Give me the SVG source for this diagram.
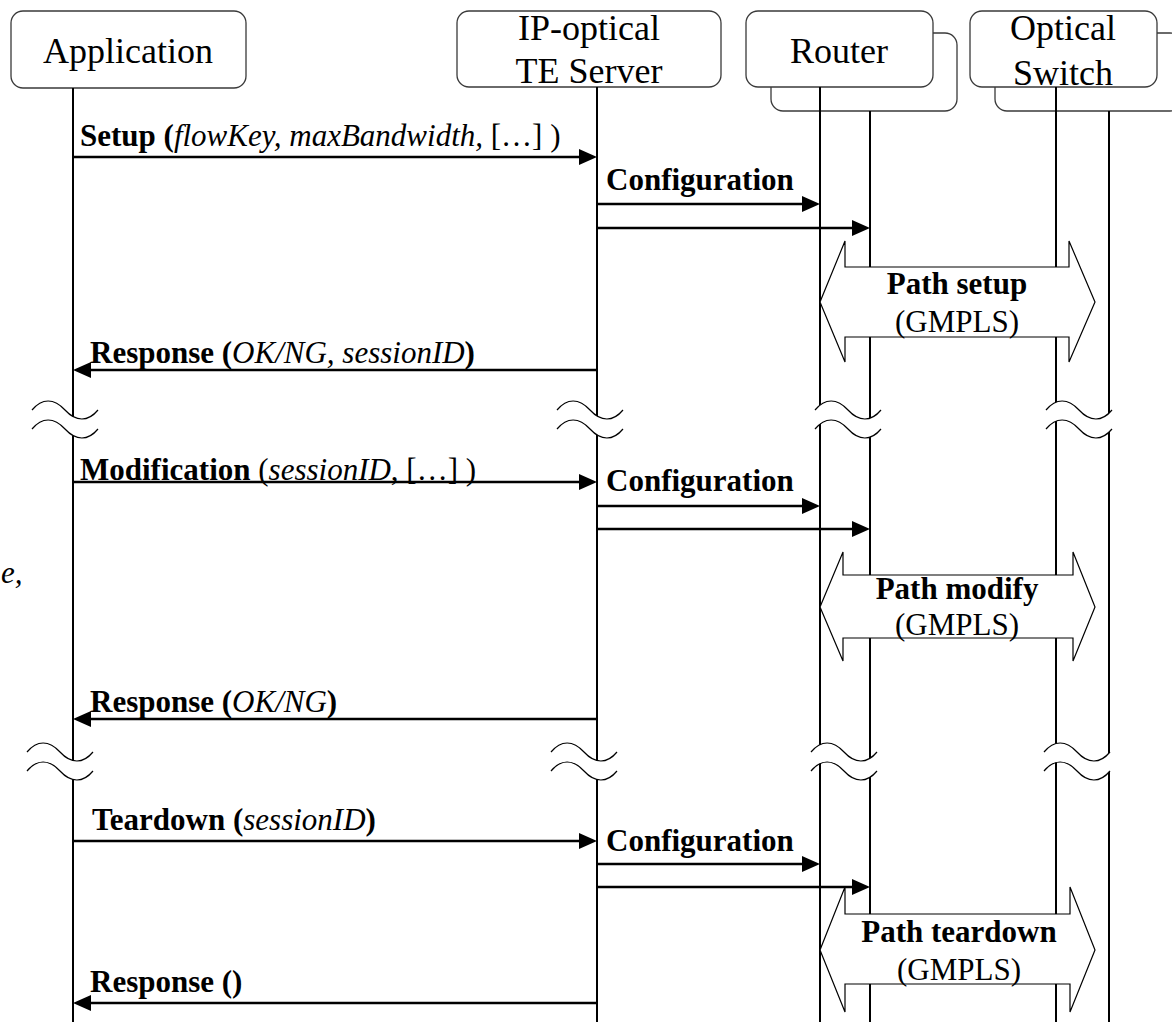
<svg xmlns="http://www.w3.org/2000/svg" xmlns:xlink="http://www.w3.org/1999/xlink" width="1172" height="1022" viewBox="0 0 1172 1022">
  <style>
    .box { fill: #ffffff; stroke: #3a3a3a; stroke-width: 1.3; }
    .head { font-family: "Liberation Serif", "Times New Roman", serif; font-size: 36px; fill: #000; text-anchor: middle; }
    .life { stroke: #000; stroke-width: 2; fill: none; }
    .msg { stroke: #000; stroke-width: 2.6; fill: none; marker-end: url(#ah); }
    .lbl { font-family: "Liberation Serif", "Times New Roman", serif; font-size: 31px; fill: #000; }
    .b { font-weight: bold; }
    .i { font-style: italic; }
    .dbl { fill: #ffffff; stroke: #000; stroke-width: 1.2; stroke-linejoin: miter; }
    .plbl { font-family: "Liberation Serif", "Times New Roman", serif; font-size: 31px; fill: #000; text-anchor: middle; }
    .brk-fill { fill: #ffffff; stroke: none; }
    .brk-line { fill: none; stroke: #000; stroke-width: 1.2; }
  </style>
  <defs>
    <marker id="ah" markerUnits="userSpaceOnUse" viewBox="0 0 18 16" markerWidth="18" markerHeight="16" refX="10" refY="8" orient="auto">
      <path d="M0,0 L18,8 L0,16 Z" fill="#000"/>
    </marker>
    <!-- break symbol: two wavy strokes with the lifeline gap blanked between them -->
    <g id="brk">
      <path class="brk-fill" d="M0,0 c10,-12 22,-12 33,0 c11,12 23,12 33,0 L66,19 c-10,12 -22,12 -33,0 c-11,-12 -23,-12 -33,0 Z"/>
      <path class="brk-line" d="M0,0 c10,-12 22,-12 33,0 c11,12 23,12 33,0 M0,19 c10,-12 22,-12 33,0 c11,12 23,12 33,0"/>
    </g>
  </defs>

  <rect width="1172" height="1022" fill="#ffffff"/>

  <!-- participants -->
  <g id="application">
    <rect class="box" x="11" y="11" width="235" height="77" rx="12"/>
    <text class="head" x="128" y="63">Application</text>
  </g>
  <g id="te-server">
    <rect class="box" x="457" y="11" width="264" height="76" rx="12"/>
    <text class="head" x="589" y="40">IP-optical</text>
    <text class="head" x="589" y="83">TE Server</text>
  </g>
  <g id="router">
    <rect class="box" x="771" y="33" width="186" height="78" rx="12"/>
    <rect class="box" x="746" y="11" width="187" height="76" rx="12"/>
    <text class="head" x="839" y="63">Router</text>
  </g>
  <g id="optical-switch">
    <rect class="box" x="995" y="33" width="187" height="78" rx="12"/>
    <rect class="box" x="970" y="11" width="187" height="76" rx="12"/>
    <text class="head" x="1063" y="40">Optical</text>
    <text class="head" x="1063" y="85">Switch</text>
  </g>

  <!-- lifelines -->
  <g id="lifelines">
    <line class="life" x1="73" y1="88" x2="73" y2="1022"/>
    <line class="life" x1="597" y1="87" x2="597" y2="1022"/>
    <line class="life" x1="820" y1="87" x2="820" y2="1022"/>
    <line class="life" x1="870" y1="111" x2="870" y2="1022"/>
    <line class="life" x1="1056" y1="87" x2="1056" y2="1022"/>
    <line class="life" x1="1109" y1="111" x2="1109" y2="1022"/>
  </g>

  <!-- GMPLS path signalling between router and optical switch -->
  <g id="path-setup">
    <polygon class="dbl" points="820,302 845,241 845,267 1069,267 1069,241 1095,302 1069,362 1069,337 845,337 845,362"/>
    <text class="plbl b" x="957" y="294">Path setup</text>
    <text class="plbl" x="957" y="332">(GMPLS)</text>
  </g>
  <g id="path-modify">
    <polygon class="dbl" points="820,607 843,552 843,575 1073,575 1073,552 1095,607 1073,661 1073,638 843,638 843,661"/>
    <text class="plbl b" x="957" y="599">Path modify</text>
    <text class="plbl" x="957" y="635">(GMPLS)</text>
  </g>
  <g id="path-teardown">
    <polygon class="dbl" points="820,950 845,887 845,914 1070,914 1070,887 1095,950 1070,1012 1070,984 845,984 845,1012"/>
    <text class="plbl b" x="959" y="942">Path teardown</text>
    <text class="plbl" x="959" y="980">(GMPLS)</text>
  </g>

  <!-- time breaks -->
  <g id="breaks">
    <use xlink:href="#brk" x="32" y="410"/>
    <use xlink:href="#brk" x="557" y="410"/>
    <use xlink:href="#brk" x="815" y="410"/>
    <use xlink:href="#brk" x="1046" y="410"/>
    <use xlink:href="#brk" x="27" y="752"/>
    <use xlink:href="#brk" x="551" y="752"/>
    <use xlink:href="#brk" x="811" y="752"/>
    <use xlink:href="#brk" x="1044" y="752"/>
  </g>

  <!-- messages -->
  <g id="connectors">
    <path class="msg" d="M73,157 H589"/>
    <path class="msg" d="M597,204 H812"/>
    <path class="msg" d="M597,228 H862"/>
    <path class="msg" d="M597,370 H81"/>
    <path class="msg" d="M73,482 H589"/>
    <path class="msg" d="M597,506 H812"/>
    <path class="msg" d="M597,529 H862"/>
    <path class="msg" d="M597,719 H81"/>
    <path class="msg" d="M73,841 H589"/>
    <path class="msg" d="M597,864 H812"/>
    <path class="msg" d="M597,887 H862"/>
    <path class="msg" d="M597,1003 H81"/>
  </g>

  <!-- message labels -->
  <g id="labels">
    <text class="lbl" x="80" y="146"><tspan class="b">Setup (</tspan><tspan class="i">flowKey, maxBandwidth,</tspan> […] )</text>
    <text class="lbl b" x="606" y="190">Configuration</text>
    <text class="lbl" x="90" y="363"><tspan class="b">Response (</tspan><tspan class="i">OK/NG, sessionID</tspan><tspan class="b">)</tspan></text>
    <text class="lbl" x="80" y="480"><tspan class="b">Modification</tspan> (<tspan class="i">sessionID</tspan>, […] )</text>
    <text class="lbl b" x="606" y="491">Configuration</text>
    <text class="lbl" x="90" y="712"><tspan class="b">Response (</tspan><tspan class="i">OK/NG</tspan><tspan class="b">)</tspan></text>
    <text class="lbl" x="92" y="830"><tspan class="b">Teardown (</tspan><tspan class="i">sessionID</tspan><tspan class="b">)</tspan></text>
    <text class="lbl b" x="606" y="851">Configuration</text>
    <text class="lbl b" x="90" y="992">Response ()</text>
    <text class="lbl i" x="1" y="583">e,</text>
  </g>
</svg>
